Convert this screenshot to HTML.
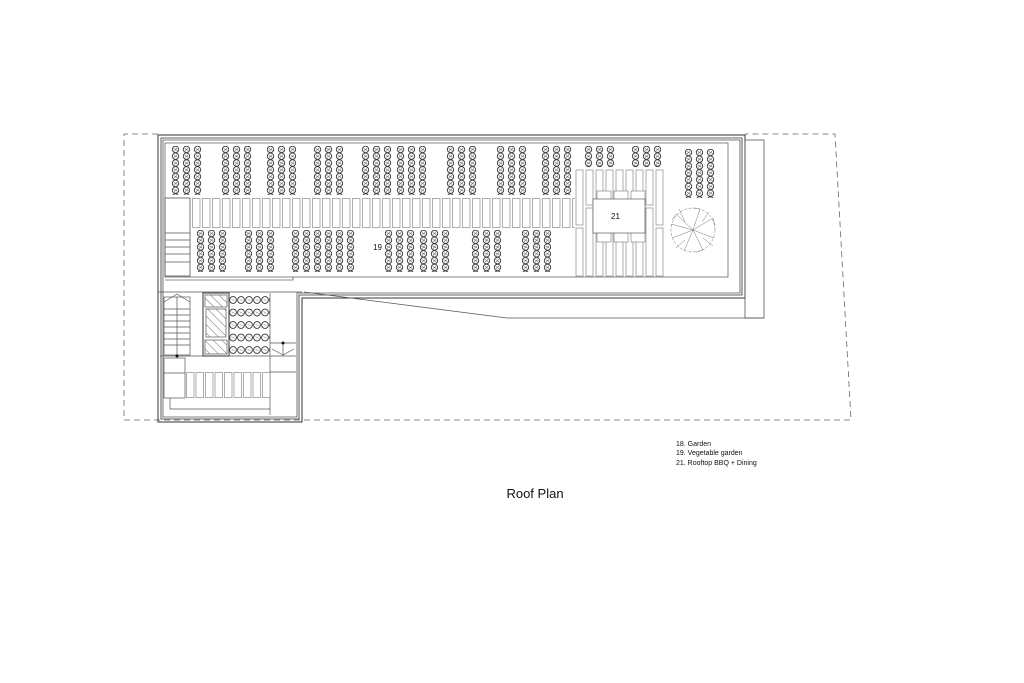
<!DOCTYPE html>
<html><head><meta charset="utf-8"><style>
html,body{margin:0;padding:0;background:#fff;width:1024px;height:683px;overflow:hidden}
svg{display:block}
text{font-family:"Liberation Sans",sans-serif;fill:#111}
</style></head><body>
<svg width="1024" height="683" viewBox="0 0 1024 683" xmlns="http://www.w3.org/2000/svg">
<defs>
<pattern id="pl" x="0" y="0" width="11" height="6.8" patternUnits="userSpaceOnUse">
<circle cx="5.5" cy="3.4" r="3.2" fill="#fff" stroke="#333" stroke-width="0.9"/>
<path d="M3.5 2.3 L7.5 4.5 M4 5 L7 2" stroke="#555" stroke-width="0.5"/>
</pattern>
<pattern id="pl2" x="0" y="0" width="8" height="12.5" patternUnits="userSpaceOnUse">
<circle cx="4" cy="4" r="3.4" fill="#fff" stroke="#333" stroke-width="0.9"/>
<path d="M2.5 3 L5.5 5" stroke="#555" stroke-width="0.5"/>
</pattern>
<pattern id="hat" width="6" height="6" patternUnits="userSpaceOnUse" patternTransform="rotate(-45)">
<line x1="0" y1="0" x2="0" y2="6" stroke="#555" stroke-width="0.8"/>
</pattern>
<pattern id="bench" x="0" y="0" width="10" height="40" patternUnits="userSpaceOnUse">
<rect x="0.5" y="0.5" width="7.5" height="29" fill="#fff" stroke="#777" stroke-width="0.6"/>
</pattern>
<pattern id="bench2" x="0" y="0" width="9.5" height="40" patternUnits="userSpaceOnUse">
<rect x="0.5" y="0.5" width="7.5" height="25" fill="#fff" stroke="#777" stroke-width="0.6"/>
</pattern>
</defs>
<g fill="none" stroke="#555" stroke-width="0.8">
<path d="M158 134 H124 V420 H851 L835 134 H745" stroke-dasharray="6,4" stroke="#666"/>
<path d="M158 135 H745 V298 H302 V422 H158 Z" stroke="#333" stroke-width="1"/>
<path d="M161 138 H742 V295 H299 V419 H161 Z" stroke="#333"/>
<path d="M163 140 H740 V293 H297 V417 H163 Z"/>
<rect x="165" y="143" width="563" height="134" stroke="#666"/>
<path d="M165 280 H293 V277" stroke="#666"/>
<rect x="745" y="140" width="19" height="178"/>
<path d="M304 292 L507 318 H764" />
<line x1="158" y1="292" x2="302" y2="292"/>
<rect x="165" y="198" width="25" height="78"/>
<line x1="165" y1="233" x2="190" y2="233"/><line x1="165" y1="240" x2="190" y2="240"/>
<line x1="165" y1="247" x2="190" y2="247"/><line x1="165" y1="254" x2="190" y2="254"/>
<line x1="165" y1="262" x2="190" y2="262"/>
</g>
<rect x="0" y="0" width="383" height="30" fill="url(#bench)" transform="translate(192,198)"/>
<g fill="url(#pl)">
<rect width="33" height="49" transform="translate(170,146)"/>
<rect width="33" height="49" transform="translate(220,146)"/>
<rect width="33" height="49" transform="translate(265,146)"/>
<rect width="33" height="49" transform="translate(312,146)"/>
<rect width="33" height="49" transform="translate(360,146)"/>
<rect width="33" height="49" transform="translate(395,146)"/>
<rect width="33" height="49" transform="translate(445,146)"/>
<rect width="33" height="49" transform="translate(495,146)"/>
<rect width="33" height="49" transform="translate(540,146)"/>
<rect width="33" height="21" transform="translate(583,146)"/>
<rect width="33" height="21" transform="translate(630,146)"/>
<rect width="33" height="49" transform="translate(683,149)"/>
<rect width="33" height="42" transform="translate(195,230)"/>
<rect width="33" height="42" transform="translate(243,230)"/>
<rect width="66" height="42" transform="translate(290,230)"/>
<rect width="33" height="42" transform="translate(383,230)"/>
<rect width="33" height="42" transform="translate(418,230)"/>
<rect width="33" height="42" transform="translate(470,230)"/>
<rect width="33" height="42" transform="translate(520,230)"/>
</g>
<text x="373" y="250" font-size="8">19</text>
<g fill="#fff" stroke="#777" stroke-width="0.6">
<rect x="576" y="170" width="7" height="55"/><rect x="576" y="228" width="7" height="48"/>
<rect x="586" y="170" width="7" height="35"/><rect x="586" y="208" width="7" height="68"/>
<rect x="596" y="170" width="7" height="60"/><rect x="596" y="232" width="7" height="44"/>
<rect x="606" y="170" width="7" height="40"/><rect x="606" y="212" width="7" height="64"/>
<rect x="616" y="170" width="7" height="60"/><rect x="616" y="232" width="7" height="44"/>
<rect x="626" y="170" width="7" height="40"/><rect x="626" y="212" width="7" height="64"/>
<rect x="636" y="170" width="7" height="55"/><rect x="636" y="228" width="7" height="48"/>
<rect x="646" y="170" width="7" height="35"/><rect x="646" y="208" width="7" height="68"/>
<rect x="656" y="170" width="7" height="55"/><rect x="656" y="228" width="7" height="48"/>
<rect x="597" y="191" width="14" height="51"/><rect x="614" y="191" width="14" height="51"/><rect x="631" y="191" width="14" height="51"/>
<rect x="593" y="199" width="52" height="34" stroke="#444"/>
</g>
<text x="611" y="219" font-size="8">21</text>
<g stroke="#777" stroke-width="0.5" fill="none">
<circle cx="693" cy="230" r="22" stroke-dasharray="3,1.5"/>
<path d="M693 230 L676 214 M693 230 L700 209 M693 230 L713 218 M693 230 L714 238 M693 230 L703 250 M693 230 L684 251 M693 230 L672 238 M693 230 L671 224 M685 222 L679 209 M702 222 L709 212 M703 238 L713 246 M685 240 L676 248 M676 214 L672 220 M700 209 L693 208 M713 218 L715 226 M703 250 L696 252"/>
</g>
<g fill="none" stroke="#555" stroke-width="0.7">
<rect x="164" y="297" width="26" height="58"/>
<path d="M164 302 L177 294 L190 302"/>
<line x1="164" y1="309" x2="190" y2="309"/><line x1="164" y1="315" x2="190" y2="315"/>
<line x1="164" y1="321" x2="190" y2="321"/><line x1="164" y1="327" x2="190" y2="327"/>
<line x1="164" y1="333" x2="190" y2="333"/><line x1="164" y1="339" x2="190" y2="339"/>
<line x1="164" y1="345" x2="190" y2="345"/>
<line x1="177" y1="297" x2="177" y2="356"/>
<line x1="160" y1="356" x2="296" y2="356"/>
<rect x="203" y="293" width="26" height="63" stroke-width="1.2"/>
<rect x="205" y="295" width="22" height="12" fill="url(#hat)"/>
<rect x="206" y="309" width="20" height="28" fill="url(#hat)"/>
<rect x="205" y="340" width="22" height="14" fill="url(#hat)"/>
<rect x="164" y="358" width="21" height="40"/>
<line x1="164" y1="373" x2="185" y2="373"/>
<line x1="270" y1="293" x2="270" y2="415"/>
<line x1="270" y1="372" x2="296" y2="372"/>
<line x1="270" y1="343" x2="296" y2="343"/>
<path d="M272 349 L283 355 L294 349"/>
<line x1="283" y1="343" x2="283" y2="356"/>
<path d="M170 398 V409 H270"/>
</g>
<circle cx="177" cy="356" r="1.5" fill="#111"/>
<circle cx="283" cy="343" r="1.5" fill="#111"/>
<rect width="41" height="60" fill="url(#pl2)" transform="translate(229,296)"/>
<rect width="85" height="26" fill="url(#bench2)" transform="translate(186,372)"/>
<text x="676" y="446" font-size="7">18. Garden</text>
<text x="676" y="455" font-size="7">19. Vegetable garden</text>
<text x="676" y="465" font-size="7">21. Rooftop BBQ + Dining</text>
<text x="535" y="498" font-size="13" text-anchor="middle">Roof Plan</text>
</svg>
</body></html>
